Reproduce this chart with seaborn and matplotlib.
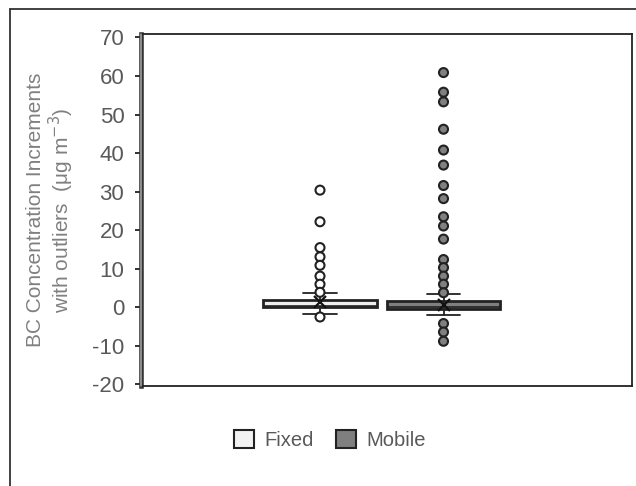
import numpy as np
import pandas as pd
import matplotlib
matplotlib.use("Agg")
import matplotlib.pyplot as plt
import seaborn as sns
from matplotlib.patches import Patch
from matplotlib.lines import Line2D

# Box-and-whisker summaries for each measurement platform
groups = ["Fixed", "Mobile"]
q1 = [0.1, -0.3]
median = [0.4, 0.2]
q3 = [2.0, 1.6]
whisker_low = [-1.6, -2.1]
whisker_high = [3.6, 3.4]
means = [1.4, 0.5]
fixed_outliers = [30.4, 22.2, 15.5, 13.1, 10.9, 8.1, 6.0, 3.9, -2.5]
mobile_outliers = [60.9, 55.8, 53.3, 46.2, 40.8, 36.9, 31.6, 28.2, 23.5,
                   21.1, 17.7, 12.4, 10.3, 8.1, 6.0, 3.8, -4.2, -6.4, -8.8]
y_ticks = [-20, -10, 0, 10, 20, 30, 40, 50, 60, 70]

box_fill = {"Fixed": "#eeeeee", "Mobile": "#7f7f7f"}
dot_fill = {"Fixed": "#ffffff", "Mobile": "#808080"}

sns.set_theme(style="white")
plt.rcParams["font.family"] = ["Liberation Sans", "DejaVu Sans"]

fig = plt.figure(figsize=(6.36, 4.86), dpi=100)
ax = fig.add_axes([141 / 636, 1 - 386 / 486, (632 - 141) / 636, (386 - 34) / 486])

positions = list(range(len(groups)))
stats = []
for i, g in enumerate(groups):
    stats.append(dict(label=g, q1=q1[i], med=median[i], q3=q3[i],
                      whislo=whisker_low[i], whishi=whisker_high[i], fliers=[]))

bp = ax.bxp(stats, positions=positions, widths=0.915, patch_artist=True,
            showfliers=False, capwidths=0.27,
            boxprops=dict(edgecolor="#222222", linewidth=2.0),
            medianprops=dict(color="#222222", linewidth=1.2),
            whiskerprops=dict(color="#222222", linewidth=1.3),
            capprops=dict(color="#222222", linewidth=1.3))
for patch, g in zip(bp["boxes"], groups):
    patch.set_facecolor(box_fill[g])

# Outliers
out_df = pd.DataFrame({
    "group": ["Fixed"] * len(fixed_outliers) + ["Mobile"] * len(mobile_outliers),
    "value": fixed_outliers + mobile_outliers,
})
out_df["pos"] = out_df["group"].map({g: i for i, g in enumerate(groups)})
sns.scatterplot(data=out_df, x="pos", y="value", hue="group", palette=dot_fill,
                edgecolor="#222222", linewidth=1.5, s=42, legend=False,
                zorder=4, ax=ax)

# Means
ax.plot(positions, means, linestyle="none", marker="x", markersize=9,
        markeredgewidth=1.6, color="#111111", zorder=5)

ax.set_xlim((141 - 320) / 123.5, (632 - 320) / 123.5)
ax.set_ylim(-20.4, 70.9)
ax.set_yticks(y_ticks)
ax.set_yticklabels([str(t) for t in y_ticks])
ax.set_xticks([])
ax.set_xlabel("")
ax.tick_params(axis="y", which="major", left=True, direction="out", length=4,
               width=1.3, color="#222222", labelsize=16, labelcolor="#595959",
               pad=8)

for side in ["top", "right", "bottom"]:
    ax.spines[side].set_color("#222222")
    ax.spines[side].set_linewidth(1.3)
ax.spines["left"].set_color("#333333")
ax.spines["left"].set_linewidth(3.3)
ax.axvline(ax.get_xlim()[0], color="#a8a8a8", linewidth=1.1, zorder=6,
           clip_on=False)

ax.set_ylabel("BC Concentration Increments\nwith outliers  (μg m$^{-3}$)",
              fontsize=15, color="#808080", va="center", ha="center",
              linespacing=1.1)
ax.yaxis.set_label_coords((51 - 141) / 491, 0.5)

handles = [Patch(facecolor="#f2f2f2", edgecolor="#222222", linewidth=1.5),
           Patch(facecolor="#7f7f7f", edgecolor="#222222", linewidth=1.5)]
fig.legend(handles, groups, loc="center", bbox_to_anchor=(330 / 636, 1 - 440 / 486),
           ncol=2, frameon=False, fontsize=14.5, handlelength=1.0,
           handleheight=1.0, handletextpad=0.5, columnspacing=1.1,
           labelcolor="#595959")

# Outer frame lines
fig.add_artist(Line2D([9.5 / 636, 9.5 / 636], [0, 1 - 9.5 / 486],
                      transform=fig.transFigure, color="#333333", linewidth=1.3))
fig.add_artist(Line2D([9.5 / 636, 1], [1 - 9.5 / 486, 1 - 9.5 / 486],
                      transform=fig.transFigure, color="#333333", linewidth=1.3))

fig.savefig("out.png", dpi=100)
